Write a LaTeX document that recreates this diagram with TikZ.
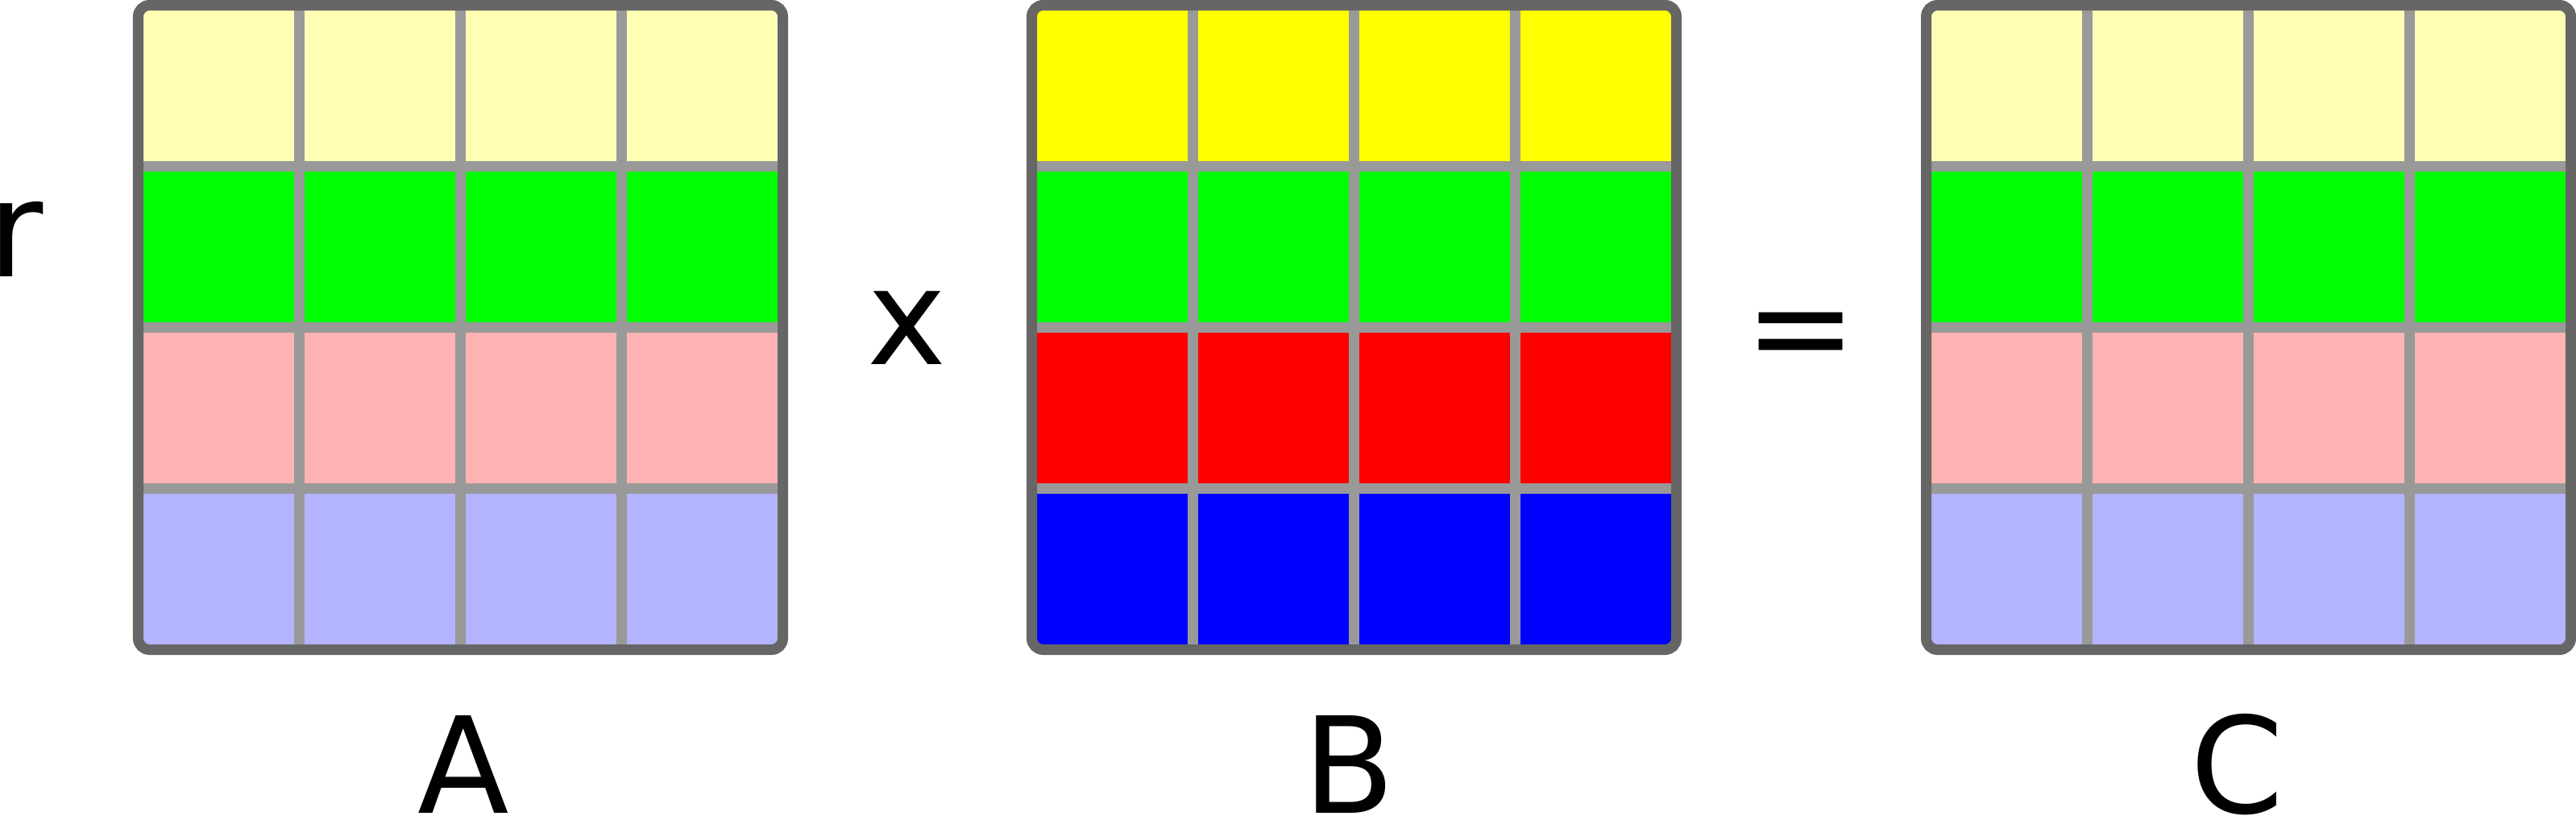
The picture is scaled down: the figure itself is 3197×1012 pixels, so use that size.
\documentclass[tikz,border=0pt]{standalone}
\usepackage{fontspec}
\setmainfont{DejaVu Sans}
\definecolor{rowyellow}{HTML}{FFFF00}
\definecolor{rowgreen}{HTML}{00FF00}
\definecolor{rowred}{HTML}{FF0000}
\definecolor{rowblue}{HTML}{0000FF}
\definecolor{lightyellow}{HTML}{FFFFB3}
\definecolor{lightred}{HTML}{FFB3B3}
\definecolor{lightblue}{HTML}{B3B3FF}
\definecolor{gridgray}{HTML}{999999}
\definecolor{bordergray}{HTML}{666666}

\begin{document}
\begin{tikzpicture}[x=0.01cm, y=-0.01cm,
    border/.style = {draw=bordergray, line width=0.13cm, rounded corners=0.14cm},
    gridline/.style = {draw=gridgray, line width=0.13cm},
    every node/.style = {inner sep=0pt, font=\fontsize{47.2}{56}\selectfont}]
    \useasboundingbox (0,0) rectangle (3197,1012);
    % the three matrices, rows filled top to bottom
    \foreach \x/\rows/\name/\lx in {171.5/{lightyellow,rowgreen,lightred,lightblue}/A/575,
        1280.5/{rowyellow,rowgreen,rowred,rowblue}/B/1674,
        2390.5/{lightyellow,rowgreen,lightred,lightblue}/C/2776} {
        \begin{scope}
            \clip[rounded corners=0.14cm] (\x,6.5) rectangle ++(800,800);
            \foreach \c [count=\i from 0] in \rows
                \fill[fill=\c] (\x,6.5+200*\i) rectangle ++(800,200);
        \end{scope}
        \foreach \k in {1,2,3} {
            \draw[gridline] (\x+200*\k,6.5) -- ++(0,800);
            \draw[gridline] (\x,6.5+200*\k) -- ++(800,0);
        }
        \draw[border] (\x,6.5) rectangle ++(800,800);
        \node[anchor=base] (\name) at (\lx,1009) {\name};
    }
    \node[anchor=base west] (r) at (-15,343) {r};
    \node[anchor=base] (times) at (1125.5,452) {x};
    \node[anchor=base] (eq) at (2235.5,463) {=};
\end{tikzpicture}
\end{document}
